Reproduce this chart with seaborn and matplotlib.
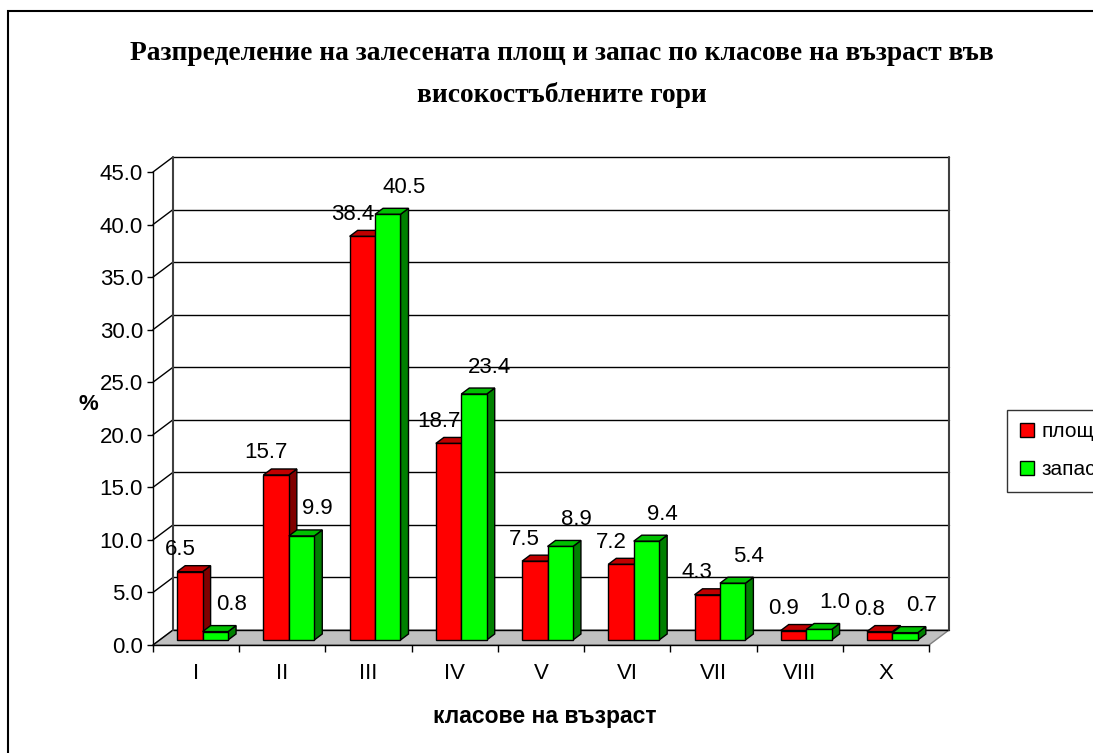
import pandas as pd
import seaborn as sns
import matplotlib.pyplot as plt
from matplotlib.patches import Polygon, Patch, Rectangle

classes = ['I', 'II', 'III', 'IV', 'V', 'VI', 'VII', 'VIII', 'X']
area = [6.5, 15.7, 38.4, 18.7, 7.5, 7.2, 4.3, 0.9, 0.8]
stock = [0.8, 9.9, 40.5, 23.4, 8.9, 9.4, 5.4, 1.0, 0.7]
series_names = ['площ', 'запас']
yticks = [0, 5, 10, 15, 20, 25, 30, 35, 40, 45]

title_lines = ['Разпределение на залесената площ и запас по класове на възраст във',
               'високостъблените гори']

front_cols = ['#FF0000', '#00FF00']
top_cols = ['#C00000', '#00C000']
side_cols = ['#800000', '#008000']

W, H = 1093, 753
sns.set_style('white')
plt.rcParams['font.family'] = ['Liberation Sans', 'DejaVu Sans']
plt.rcParams['text.color'] = 'black'
plt.rcParams['axes.labelcolor'] = 'black'
plt.rcParams['xtick.color'] = 'black'
plt.rcParams['ytick.color'] = 'black'

df = pd.DataFrame({
    'class': classes * 2,
    'value': area + stock,
    'series': [series_names[0]] * len(classes) + [series_names[1]] * len(classes),
})

fig = plt.figure(figsize=(W / 100, H / 100), dpi=100)
# front plane of the 3d box
ax = fig.add_axes([153 / W, (H - 645) / H, 776 / W, 473 / H])
sns.barplot(data=df, x='class', y='value', hue='series', palette=front_cols,
            saturation=1, width=0.59, edgecolor='black', linewidth=1,
            legend=False, ax=ax)
ax.set_xlim(-0.5, 8.5)
ax.set_ylim(0, 45)

# pixel -> data units
ux = 9 / 776
uy = 45 / 473
DX, DY = 20 * ux, 15 * uy      # wall depth
bx, by = 6.5 * ux, 5 * uy      # bar front shift
dx, dy = 8 * ux, 6 * uy        # bar depth

# floor and walls
floor = Polygon([(-0.5, 0), (8.5, 0), (8.5 + DX, DY), (-0.5 + DX, DY)],
                closed=True, facecolor='#C0C0C0', edgecolor='#808080', lw=1,
                clip_on=False, zorder=0.5)
ax.add_patch(floor)
for v in yticks:
    ax.plot([-0.5 + DX, 8.5 + DX], [v + DY, v + DY], color='black', lw=1,
            clip_on=False, zorder=0.6)
    ax.plot([-0.5, -0.5 + DX], [v, v + DY], color='black', lw=1,
            clip_on=False, zorder=0.6)
ax.plot([-0.5 + DX, -0.5 + DX], [DY, 45 + DY], color='#404040', lw=1.5,
        clip_on=False, zorder=0.6)
ax.plot([8.5 + DX, 8.5 + DX], [DY, 45 + DY], color='#404040', lw=1.5,
        clip_on=False, zorder=0.6)

# 3d bars
for k, cont in enumerate(ax.containers):
    for bar in cont:
        x0 = bar.get_x() + bx
        w = bar.get_width()
        h = bar.get_height()
        bar.set_x(x0)
        bar.set_y(by)
        bar.set_zorder(4 + 2 * k)
        y1 = by + h
        side = Polygon([(x0 + w, by), (x0 + w + dx, by + dy), (x0 + w + dx, y1 + dy), (x0 + w, y1)],
                       closed=True, facecolor=side_cols[k], edgecolor='black', lw=1,
                       clip_on=False, zorder=3 + 2 * k)
        top = Polygon([(x0, y1), (x0 + w, y1), (x0 + w + dx, y1 + dy), (x0 + dx, y1 + dy)],
                      closed=True, facecolor=top_cols[k], edgecolor='black', lw=1,
                      clip_on=False, zorder=3 + 2 * k)
        ax.add_patch(side)
        ax.add_patch(top)
        lx = x0 + w / 2 + (-10 if k == 0 else 16) * ux
        ly = y1 + (22 if k == 0 else 27) * uy
        ax.text(lx, ly, f'{h:.1f}', ha='center', va='center', fontsize=16,
                clip_on=False, zorder=10)

# axes
sns.despine(ax=ax, top=True, right=True)
ax.spines['left'].set_linewidth(1)
ax.spines['bottom'].set_linewidth(1)
ax.spines['left'].set_color('black')
ax.spines['bottom'].set_color('black')
ax.spines['left'].set_zorder(9)
ax.spines['bottom'].set_zorder(9)
ax.set_yticks(yticks)
ax.set_yticklabels([f'{v:.1f}' for v in yticks])
ax.tick_params(axis='y', direction='out', length=4.3, width=1, pad=3, labelsize=16, left=True)
ax.set_xticks(range(len(classes)))
ax.set_xticklabels(classes)
ax.set_xticks([i - 0.5 for i in range(len(classes) + 1)], minor=True)
ax.tick_params(axis='x', which='major', length=0, pad=13, labelsize=16)
ax.tick_params(axis='x', which='minor', direction='out', length=5, width=1, bottom=True)
ax.set_xlabel('')
ax.set_ylabel('')
ax.patch.set_alpha(0)

fig.text(88 / W, 1 - 405 / H, '%', ha='center', va='center', fontsize=16, fontweight='bold')
fig.text(545 / W, 1 - 716 / H, 'класове на възраст', ha='center', va='center',
         fontsize=16.5, fontweight='bold')

fig.text(562 / W, 1 - 53 / H, title_lines[0], ha='center', va='center',
         fontsize=19.8, fontweight='bold', family='Liberation Serif')
fig.text(562 / W, 1 - 95 / H, title_lines[1], ha='center', va='center',
         fontsize=19.8, fontweight='bold', family='Liberation Serif')

# legend box runs past the right edge, as in the source chart
handles = [Patch(facecolor=front_cols[i], edgecolor='black', label=series_names[i]) for i in range(2)]
leg = fig.legend(handles=handles, loc='upper left', bbox_to_anchor=(1007 / W, 1 - 410 / H),
                 frameon=True, fancybox=False, shadow=False, fontsize=15,
                 handlelength=0.7, handleheight=0.7, handletextpad=0.35,
                 labelspacing=0.9, borderpad=0.6, borderaxespad=0)
leg.get_frame().set_edgecolor('black')
leg.get_frame().set_linewidth(1)

# chart area border
fig.patches.append(Rectangle((8 / W, -0.1), 2, 1 - 11 / H + 0.1, transform=fig.transFigure,
                             fill=False, edgecolor='black', lw=1.5))

fig.savefig('out.png', dpi=100)
